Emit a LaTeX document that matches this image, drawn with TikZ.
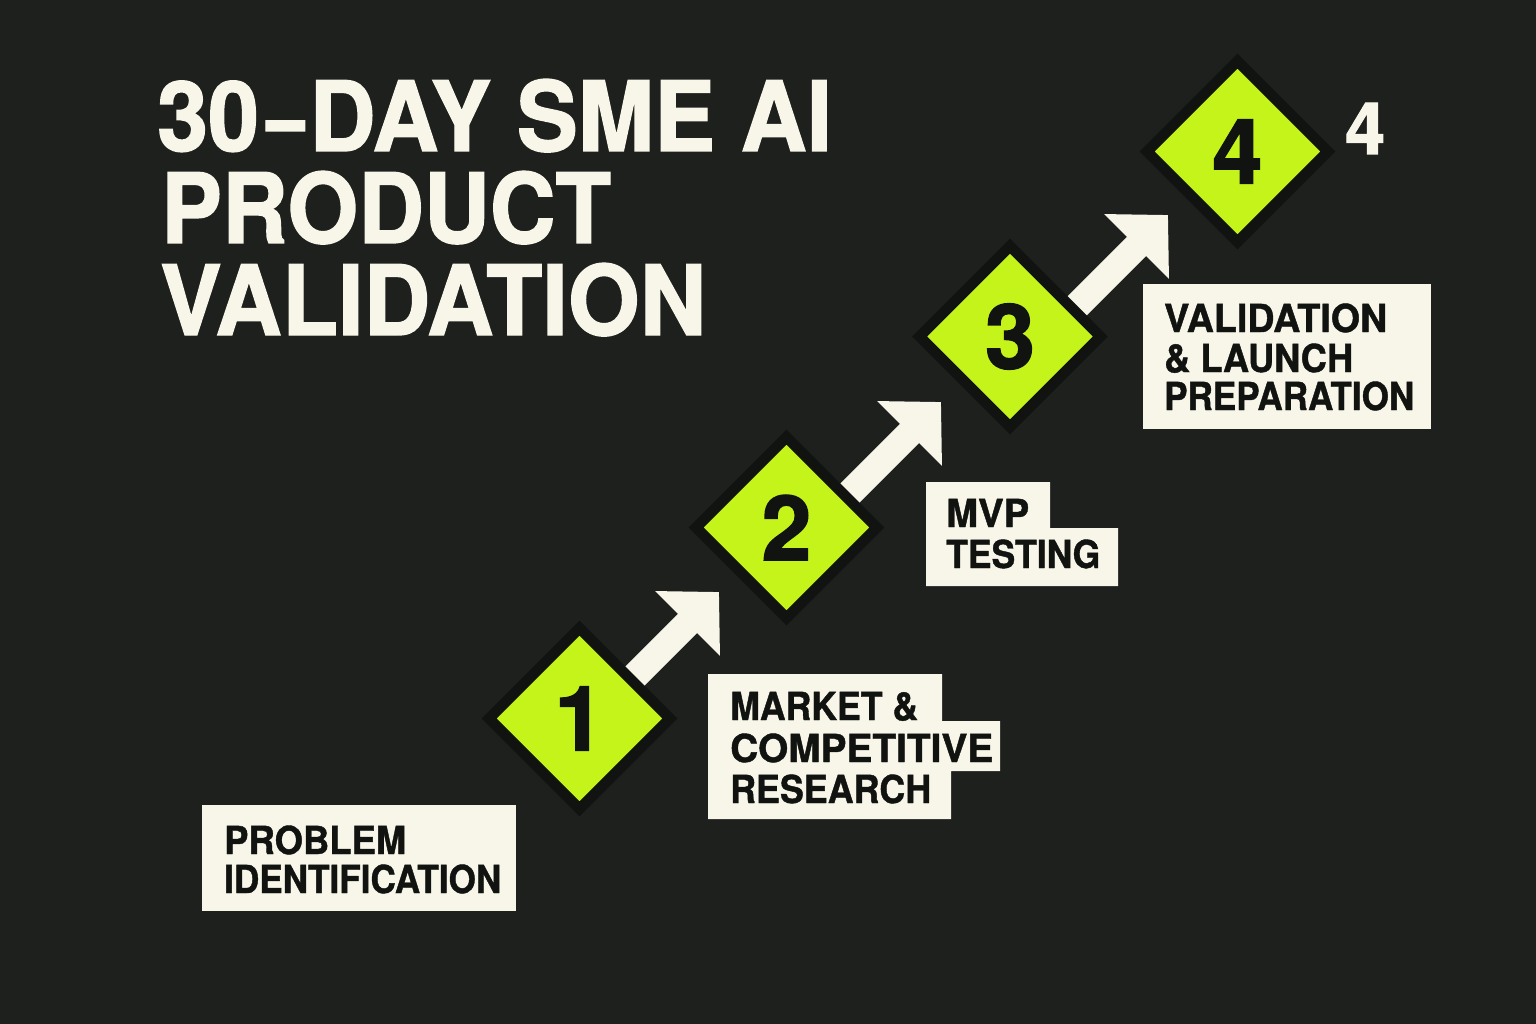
\documentclass[tikz,border=0pt]{standalone}
\usepackage{fontspec}
\usepackage{graphicx}
\usetikzlibrary{shapes.geometric,arrows.meta}
\newfontfamily\heros{TeX Gyre Heros Bold}[FakeBold=1.5]
\newfontfamily\herosl{TeX Gyre Heros Bold}[FakeBold=1.1]
\definecolor{bgc}{HTML}{1E201E}
\definecolor{cream}{HTML}{F8F6E9}
\definecolor{lime}{HTML}{C5F41B}
\definecolor{ink}{HTML}{111311}
\newcommand\fitw[2]{\resizebox{#1pt}{\height}{#2}}
\begin{document}
\begin{tikzpicture}[x=1pt,y=-1pt,
  diam/.style={shape=diamond, aspect=1, minimum width=185pt, minimum height=185pt,
    inner sep=0pt, fill=lime, draw=ink, line width=10.6pt, text=ink,
    font=\heros\fontsize{90}{90}\selectfont},
  titleline/.style={anchor=base west, inner sep=0pt, text=cream,
    font=\heros\fontsize{97}{97}\selectfont},
  lbl/.style={anchor=base west, inner sep=0pt, text=ink,
    font=\herosl\fontsize{38.5}{40}\selectfont},
  lblbox/.style={fill=cream},
  flow/.style={draw=cream, line width=27pt, -{Triangle[length=44.5pt,width=89pt]}},
]
\useasboundingbox (0,0) rectangle (1536,1024);
\fill[bgc] (0,0) rectangle (1536,1024);

% title
\node[titleline] (t1) at (157,151)
  {\fitw{675}{30\kern8pt\scalebox{0.75}[1]{–}\kern5pt DAY SME AI}};
\node[titleline] (t2) at (161,243) {\fitw{450}{PRODUCT}};
\node[titleline] (t3) at (160,335) {\fitw{546}{VALIDATION}};

% label boxes
\fill[lblbox] (202,805) rectangle (516,911);
\fill[lblbox] (708,674) -- (942,674) -- (942,721) -- (1000,721) -- (1000,771)
  -- (951,771) -- (951,819) -- (708,819) -- cycle;
\fill[lblbox] (926,482) -- (1050,482) -- (1050,528) -- (1118,528) -- (1118,586)
  -- (926,586) -- cycle;
\fill[lblbox] (1143,284) rectangle (1431,429);

% label texts
\node[lbl] (p1) at (224,854) {\fitw{182}{PROBLEM}};
\node[lbl] (p2) at (224,893) {\fitw{277}{IDENTIFICATION}};
\node[lbl] (m1) at (730,720) {\fitw{188}{MARKET \&}};
\node[lbl] (m2) at (730,762) {\fitw{263}{COMPETITIVE}};
\node[lbl] (m3) at (730,803) {\fitw{201}{RESEARCH}};
\node[lbl] (v1) at (946,527) {\fitw{83}{MVP}};
\node[lbl] (v2) at (946,568) {\fitw{154}{TESTING}};
\node[lbl] (l1) at (1164,332) {\fitw{223}{VALIDATION}};
\node[lbl] (l2) at (1164,372) {\fitw{189}{\& LAUNCH}};
\node[lbl] (l3) at (1164,410) {\fitw{250}{PREPARATION}};

% arrows
\coordinate (h1) at (719,592);
\coordinate (s1) at (569,742);
\coordinate (h2) at (941,402);
\coordinate (s2) at (791,552);
\coordinate (h3) at (1168,215);
\coordinate (s3) at (1018,365);
\draw[flow] (s1) -- (h1);
\draw[flow] (s2) -- (h2);
\draw[flow] (s3) -- (h3);

% diamonds
\node[diam] (d1) at (579.5,718.5) {1};
\node[diam] (d2) at (786.5,527.5) {2};
\node[diam] (d3) at (1010,336.5) {3};
\node[diam] (d4) at (1237.5,151.5) {4};

\node[anchor=base west, inner sep=0pt, text=cream,
  font=\heros\fontsize{72}{72}\selectfont] (n4) at (1345,154) {4};
\end{tikzpicture}
\end{document}
